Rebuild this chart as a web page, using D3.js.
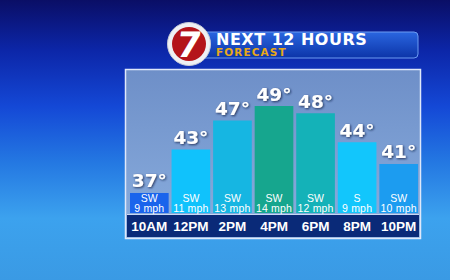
<!DOCTYPE html>
<html lang="en">
<head>
<meta charset="utf-8">
<title>Next 12 Hours Forecast</title>
<script src="https://d3js.org/d3.v7.min.js"></script>
<style>
  body { margin: 0; background: #1a50d0; }
  svg { display: block; }
</style>
</head>
<body>
<div id="chart"></div>
<script>
  // forecast data
  var times = ["10AM", "12PM", "2PM", "4PM", "6PM", "8PM", "10PM"];
  var temps = [37, 43, 47, 49, 48, 44, 41];
  var windDir = ["SW", "SW", "SW", "SW", "SW", "S", "SW"];
  var windSpeed = [9, 11, 13, 14, 12, 9, 10];

  var barColors = ["#1a64ec", "#10c2fc", "#16b6e2", "#16a68e", "#14b2b8", "#12c6fc", "#1c9cf0"];

  var w = 450, h = 280;

  var svg = d3.select("#chart").append("svg")
    .attr("width", w)
    .attr("height", h);

  var defs = svg.append("defs");

  var bg = defs.append("linearGradient").attr("id", "bg")
    .attr("x1", 0).attr("y1", 0).attr("x2", 0).attr("y2", 1);
  [[0, "#0a0e66"], [0.18, "#0c26a8"], [0.38, "#1448d6"], [0.58, "#2478e2"],
   [0.78, "#3ca2ee"], [1, "#3a9ae4"]].forEach(function(s) {
    bg.append("stop").attr("offset", s[0]).attr("stop-color", s[1]);
  });

  var panelGrad = defs.append("linearGradient").attr("id", "panel")
    .attr("x1", 0).attr("y1", 0).attr("x2", 0).attr("y2", 1);
  panelGrad.append("stop").attr("offset", 0).attr("stop-color", "#6e8fc8");
  panelGrad.append("stop").attr("offset", 1).attr("stop-color", "#8aaede");

  var headGrad = defs.append("linearGradient").attr("id", "head")
    .attr("x1", 0).attr("y1", 0).attr("x2", 0).attr("y2", 1);
  headGrad.append("stop").attr("offset", 0).attr("stop-color", "#2a66e0");
  headGrad.append("stop").attr("offset", 1).attr("stop-color", "#0c34a8");

  var shadow = defs.append("filter").attr("id", "shadow")
    .attr("x", "-20%").attr("y", "-20%").attr("width", "140%").attr("height", "140%");
  shadow.append("feDropShadow")
    .attr("dx", 1).attr("dy", 1).attr("stdDeviation", 0.8)
    .attr("flood-color", "#0a1a40").attr("flood-opacity", 0.8);

  // background
  svg.append("rect").attr("width", w).attr("height", h).attr("fill", "url(#bg)");

  // header bar
  svg.append("rect")
    .attr("x", 198).attr("y", 32).attr("width", 220).attr("height", 26).attr("rx", 4)
    .attr("fill", "url(#head)")
    .attr("stroke", "#6c9cf2").attr("stroke-width", 1);

  svg.append("text")
    .attr("x", 216).attr("y", 45)
    .attr("fill", "#ffffff")
    .style("font", "bold 16px 'DejaVu Sans'")
    .style("letter-spacing", "0.5px")
    .text("NEXT 12 HOURS");

  svg.append("text")
    .attr("x", 216).attr("y", 56)
    .attr("fill", "#e8a818")
    .style("font", "bold 10.5px 'DejaVu Sans'")
    .style("letter-spacing", "1.1px")
    .text("FORECAST");

  // logo
  svg.append("circle").attr("cx", 189).attr("cy", 44).attr("r", 21.5)
    .attr("fill", "#eef0f4").attr("stroke", "#c8ccd8").attr("stroke-width", 1);
  svg.append("circle").attr("cx", 189).attr("cy", 44).attr("r", 17)
    .attr("fill", "#b4141a");
  svg.append("text")
    .attr("x", 189).attr("y", 57)
    .attr("text-anchor", "middle")
    .attr("fill", "#ffffff")
    .attr("transform", "skewX(-8) translate(6.5,0)")
    .style("font", "bold 35px 'DejaVu Sans'")
    .text("7");

  // panel
  svg.append("rect")
    .attr("x", 125.5).attr("y", 69.5).attr("width", 295).attr("height", 169)
    .attr("fill", "url(#panel)")
    .attr("stroke", "#dfe8fa").attr("stroke-width", 1.5);

  var x = d3.scaleBand()
    .domain(times)
    .range([130, 418])
    .paddingInner(0.07);

  var baseY = 213;
  var y = d3.scaleLinear()
    .domain([34.24, 49])
    .range([baseY, 106]);

  var data = times.map(function(t, i) {
    return { time: t, temp: temps[i], dir: windDir[i], speed: windSpeed[i], color: barColors[i] };
  });

  var bars = svg.selectAll("g.bar")
    .data(data)
    .enter()
    .append("g")
    .attr("class", "bar");

  bars.append("rect")
    .attr("x", function(d) { return x(d.time); })
    .attr("y", function(d) { return y(d.temp); })
    .attr("width", x.bandwidth())
    .attr("height", function(d) { return baseY - y(d.temp); })
    .attr("fill", function(d) { return d.color; });

  bars.append("text")
    .attr("x", function(d) { return x(d.time) + x.bandwidth() / 2; })
    .attr("y", function(d) { return y(d.temp) - 5.5; })
    .attr("text-anchor", "middle")
    .attr("fill", "#ffffff")
    .attr("filter", "url(#shadow)")
    .style("font", "bold 18.5px 'DejaVu Sans'")
    .text(function(d) { return d.temp + "°"; });

  bars.append("text")
    .attr("x", function(d) { return x(d.time) + x.bandwidth() / 2; })
    .attr("y", 202)
    .attr("text-anchor", "middle")
    .attr("fill", "#ffffff")
    .style("font", "10.5px 'Liberation Sans'")
    .text(function(d) { return d.dir; });

  bars.append("text")
    .attr("x", function(d) { return x(d.time) + x.bandwidth() / 2; })
    .attr("y", 211.5)
    .attr("text-anchor", "middle")
    .attr("fill", "#ffffff")
    .style("font", "10.5px 'Liberation Sans'")
    .style("letter-spacing", "0.2px")
    .text(function(d) { return d.speed + " mph"; });

  // time band
  svg.append("line")
    .attr("x1", 127).attr("x2", 419).attr("y1", 214.5).attr("y2", 214.5)
    .attr("stroke", "#c8d8f4").attr("stroke-width", 1);
  svg.append("rect")
    .attr("x", 127).attr("y", 215).attr("width", 292).attr("height", 22)
    .attr("fill", "#0a2a78");

  var xAxis = svg.append("g")
    .attr("transform", "translate(0,215)")
    .call(d3.axisBottom(x).tickSize(0).tickPadding(0));
  xAxis.select(".domain").remove();
  xAxis.selectAll("text")
    .attr("y", 16)
    .attr("dy", null)
    .attr("fill", "#ffffff")
    .style("font", "bold 13.5px 'Liberation Sans'");
</script>
</body>
</html>
